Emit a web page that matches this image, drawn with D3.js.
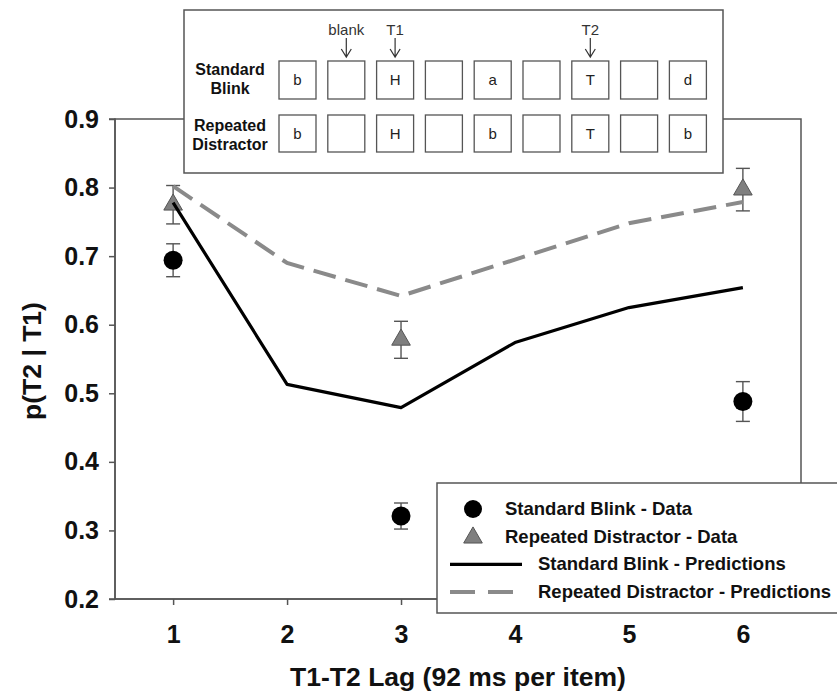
<!DOCTYPE html>
<html>
<head>
<meta charset="utf-8">
<title>p(T2|T1) by lag</title>
<script src="https://d3js.org/d3.v7.min.js"></script>
<style>
  body { margin: 0; background: #fff; }
  svg text { font-family: "Liberation Sans", Arial, sans-serif; }
</style>
</head>
<body>
<div id="chart"></div>
<script>
// values
var lags = [1, 2, 3, 4, 5, 6];
var sbPred = [0.778, 0.513, 0.479, 0.574, 0.625, 0.654];   // standard blink - predictions
var rdPred = [0.802, 0.690, 0.642, 0.695, 0.748, 0.779];   // repeated distractor - predictions
var dataLags = [1, 3, 6];
var sbMean = [0.694, 0.321, 0.488];
var sbErr = [0.024, 0.019, 0.029];
var rdMean = [0.775, 0.578, 0.797];
var rdErr = [0.028, 0.027, 0.031];
var yTicks = [0.2, 0.3, 0.4, 0.5, 0.6, 0.7, 0.8, 0.9];

// inset: RSVP streams
var streamStd = ['b', '', 'H', '', 'a', '', 'T', '', 'd'];
var streamRep = ['b', '', 'H', '', 'b', '', 'T', '', 'b'];
var pointers = [[1, 'blank'], [2, 'T1'], [6, 'T2']];

var legendItems = ['Standard Blink - Data', 'Repeated Distractor - Data',
                   'Standard Blink - Predictions', 'Repeated Distractor - Predictions'];

var width = 837, height = 693;
var pLeft = 115, pRight = 801, pTop = 119, pBottom = 599;
var axisCol = '#555', dashCol = '#8a8a8a', triFill = '#7f7f7f';

var svg = d3.select('#chart').append('svg').attr('width', width).attr('height', height);

var x = d3.scaleLinear().domain([0.49, 6.51]).range([pLeft, pRight]);
var y = d3.scaleLinear().domain([0.2, 0.9]).range([pBottom, pTop]);

// frame
svg.append('rect').attr('x', pLeft).attr('y', pTop).attr('width', pRight - pLeft).attr('height', pBottom - pTop)
    .attr('fill', 'none').attr('stroke', axisCol).attr('stroke-width', 1.5);

var yAxis = svg.append('g').attr('transform', 'translate(' + pLeft + ',0)')
    .call(d3.axisLeft(y).tickValues(yTicks).tickFormat(d3.format('.1f')).tickSize(6).tickPadding(10));
var xAxis = svg.append('g').attr('transform', 'translate(0,' + pBottom + ')')
    .call(d3.axisBottom(x).tickValues(lags).tickFormat(d3.format('d')).tickSize(6).tickPadding(20));
[yAxis, xAxis].forEach(function(a) {
    a.select('.domain').attr('stroke', axisCol).attr('stroke-width', 1.5);
    a.selectAll('.tick line').attr('stroke', axisCol).attr('stroke-width', 1.5);
    a.selectAll('.tick text').attr('fill', '#111').style('font-size', '25px').style('font-weight', 'bold')
        .style('font-family', '"Liberation Sans", Arial, sans-serif');
});
yAxis.select('.domain').attr('d', 'M-6,' + pBottom + 'H0V' + pTop + 'H-6');
xAxis.select('.domain').attr('d', 'M' + pLeft + ',0H' + pRight);

svg.append('text').attr('x', 458).attr('y', 686).attr('text-anchor', 'middle')
    .style('font-size', '26.5px').style('font-weight', 'bold').attr('fill', '#111')
    .text('T1-T2 Lag (92 ms per item)');
svg.append('text').attr('transform', 'translate(41,361) rotate(-90)').attr('text-anchor', 'middle')
    .style('font-size', '26.5px').style('font-weight', 'bold').attr('fill', '#111')
    .text('p(T2 | T1)');

// error bars + markers
function errBars(means, errs) {
    var g = svg.append('g').attr('stroke', axisCol).attr('stroke-width', 1.4);
    dataLags.forEach(function(l, i) {
        var cx = x(l);
        g.append('line').attr('x1', cx).attr('x2', cx).attr('y1', y(means[i] + errs[i])).attr('y2', y(means[i] - errs[i]));
        g.append('line').attr('x1', cx - 7).attr('x2', cx + 7).attr('y1', y(means[i] + errs[i])).attr('y2', y(means[i] + errs[i]));
        g.append('line').attr('x1', cx - 7).attr('x2', cx + 7).attr('y1', y(means[i] - errs[i])).attr('y2', y(means[i] - errs[i]));
    });
}
errBars(sbMean, sbErr);
errBars(rdMean, rdErr);

svg.append('g').selectAll('circle').data(dataLags).enter().append('circle')
    .attr('cx', function(d) { return x(d); })
    .attr('cy', function(d, i) { return y(sbMean[i]); })
    .attr('r', 9.5).attr('fill', '#000');

var tri = d3.symbol().type(d3.symbolTriangle).size(150);
svg.append('g').selectAll('path').data(dataLags).enter().append('path')
    .attr('d', tri)
    .attr('transform', function(d, i) { return 'translate(' + x(d) + ',' + y(rdMean[i]) + ')'; })
    .attr('fill', triFill).attr('stroke', '#555').attr('stroke-width', 1);

// prediction lines
var line = d3.line().x(function(d) { return x(d[0]); }).y(function(d) { return y(d[1]); });
svg.append('path').datum(d3.zip(lags, rdPred)).attr('d', line)
    .attr('fill', 'none').attr('stroke', dashCol).attr('stroke-width', 4).attr('stroke-dasharray', '23,10');
svg.append('path').datum(d3.zip(lags, sbPred)).attr('d', line)
    .attr('fill', 'none').attr('stroke', '#000').attr('stroke-width', 3.2).attr('stroke-linejoin', 'round');

// inset with the two streams
var inset = svg.append('g');
inset.append('rect').attr('x', 184).attr('y', 10).attr('width', 539).attr('height', 163)
    .attr('fill', '#fff').attr('stroke', axisCol).attr('stroke-width', 1.5);

var boxX = d3.scaleLinear().domain([0, 8]).range([279, 669.4]);
var boxW = 37;
[[streamStd, 61, 38, ['Standard', 'Blink'], 75], [streamRep, 115, 37, ['Repeated', 'Distractor'], 131]].forEach(function(r) {
    var row = inset.append('g');
    row.selectAll('rect').data(r[0]).enter().append('rect')
        .attr('x', function(d, i) { return boxX(i); }).attr('y', r[1])
        .attr('width', boxW).attr('height', r[2])
        .attr('fill', '#fff').attr('stroke', axisCol).attr('stroke-width', 1.3);
    row.selectAll('text.item').data(r[0]).enter().append('text').attr('class', 'item')
        .attr('x', function(d, i) { return boxX(i) + boxW / 2; }).attr('y', r[1] + r[2] / 2 + 5)
        .attr('text-anchor', 'middle').style('font-size', '15px').attr('fill', '#222')
        .text(function(d) { return d; });
    row.selectAll('text.lab').data(r[3]).enter().append('text').attr('class', 'lab')
        .attr('x', 230).attr('y', function(d, i) { return r[4] + i * 19; })
        .attr('text-anchor', 'middle').style('font-size', '16px').style('font-weight', 'bold').attr('fill', '#111')
        .text(function(d) { return d; });
});

pointers.forEach(function(p) {
    var cx = boxX(p[0]) + boxW / 2;
    inset.append('text').attr('x', cx).attr('y', 35).attr('text-anchor', 'middle')
        .style('font-size', '15px').attr('fill', '#333').text(p[1]);
    inset.append('path').attr('d', 'M' + cx + ',38V57M' + (cx - 5) + ',49L' + cx + ',57L' + (cx + 5) + ',49')
        .attr('fill', 'none').attr('stroke', '#333').attr('stroke-width', 1.2);
});

// legend
var lg = svg.append('g');
lg.append('rect').attr('x', 437).attr('y', 483).attr('width', 440).attr('height', 130)
    .attr('fill', '#fff').attr('stroke', axisCol).attr('stroke-width', 1.5);
var rowY = d3.scaleLinear().domain([0, 3]).range([509, 592]);
lg.append('circle').attr('cx', 473).attr('cy', rowY(0)).attr('r', 9).attr('fill', '#000');
lg.append('path').attr('d', tri).attr('transform', 'translate(473,' + (rowY(1) + 1) + ')')
    .attr('fill', triFill).attr('stroke', '#555');
lg.append('line').attr('x1', 450).attr('x2', 522).attr('y1', rowY(2)).attr('y2', rowY(2))
    .attr('stroke', '#000').attr('stroke-width', 3.2);
lg.append('line').attr('x1', 450).attr('x2', 522).attr('y1', rowY(3)).attr('y2', rowY(3))
    .attr('stroke', dashCol).attr('stroke-width', 4).attr('stroke-dasharray', '25,13');
lg.selectAll('text').data(legendItems).enter().append('text')
    .attr('x', function(d, i) { return i < 2 ? 505 : 538; })
    .attr('y', function(d, i) { return rowY(i) + 6; })
    .style('font-size', '18.5px').style('font-weight', 'bold').attr('fill', '#111')
    .text(function(d) { return d; });
</script>
</body>
</html>
